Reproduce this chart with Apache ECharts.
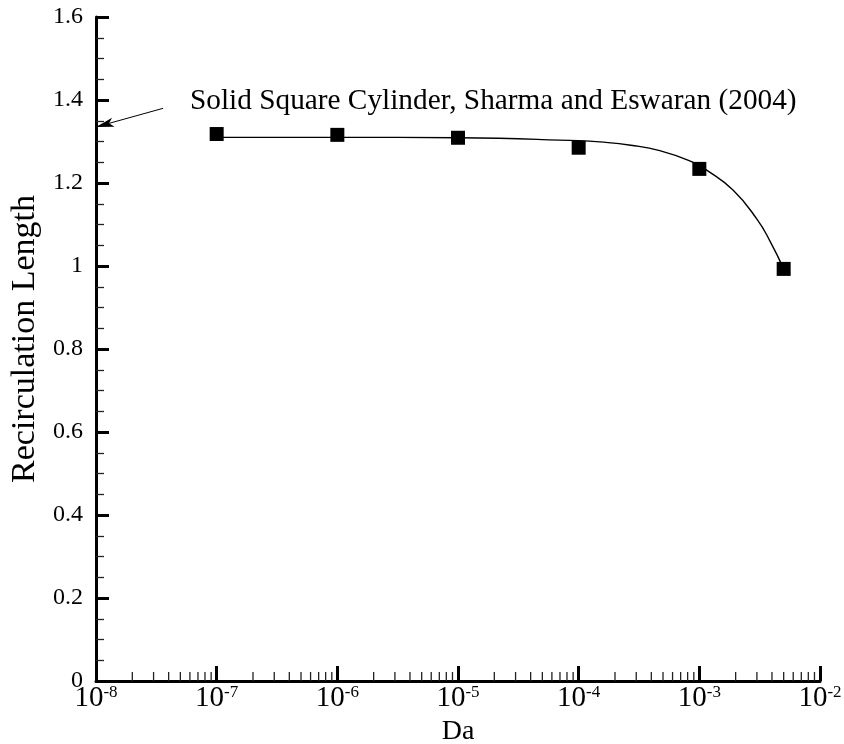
<!DOCTYPE html>
<html>
<head>
<meta charset="utf-8">
<script src="https://cdn.jsdelivr.net/npm/echarts@6/dist/echarts.min.js"></script>
<style>html,body{margin:0;padding:0;background:#fff}#c{width:844px;height:744px}</style>
</head>
<body>
<div id="c"></div>
<script>
// Darcy numbers and recirculation lengths (markers)
var daValues = [1e-7, 1e-6, 1e-5, 1e-4, 1e-3, 5e-3];
var lengthValues = [1.318, 1.316, 1.309, 1.285, 1.234, 0.993];
// fitted curve
var curveDa = [1e-7, 1e-6, 1e-5, 1e-4, 1.5e-4, 2.7e-4, 4.7e-4, 8.7e-4, 1.15e-3, 1.9e-3, 3e-3, 3.85e-3, 5e-3];
var curveLen = [1.310, 1.310, 1.309, 1.302, 1.299, 1.291, 1.278, 1.251, 1.231, 1.183, 1.113, 1.060, 0.993];
// reference arrow (solid cylinder)
var arrowFrom = [3.6e-8, 1.380];
var arrowTo = [1e-8, 1.335];
var annotationText = 'Solid Square Cylinder, Sharma and Eswaran (2004)';
var xMin = 1e-8, xMax = 1e-2;
// minor x ticks at 2..9 x 10^k
var minorX = [];
for (var e = -8; e < -2; e++) { for (var m = 2; m <= 9; m++) { minorX.push(m * Math.pow(10, e)); } }

var FONT = 'Liberation Serif';
var chart = echarts.init(document.getElementById('c'));
chart.setOption({
  backgroundColor: '#fff',
  animation: false,
  grid: { left: 96, right: 24, top: 17, bottom: 63, containLabel: false, outerBoundsMode: 'none' },
  xAxis: {
    type: 'log', logBase: 10, min: xMin, max: xMax,
    name: 'Da', nameLocation: 'middle', nameGap: 28,
    nameTextStyle: { fontFamily: FONT, fontSize: 28, color: '#000' },
    axisLine: { lineStyle: { color: '#000', width: 3 } },
    axisTick: { inside: true, length: 15, lineStyle: { color: '#000', width: 3 } },
    splitLine: { show: false },
    axisLabel: {
      margin: 3,
      formatter: function (v) {
        var ex = Math.round(Math.log10(v));
        return '{b|10}{s|' + ex + '}';
      },
      rich: {
        b: { fontFamily: FONT, fontSize: 29, color: '#000', lineHeight: 29 },
        s: { fontFamily: FONT, fontSize: 17, color: '#000', verticalAlign: 'top', lineHeight: 29, padding: [0, 0, 11, 0] }
      }
    }
  },
  yAxis: {
    type: 'value', min: 0, max: 1.6, interval: 0.2,
    name: 'Recirculation Length', nameLocation: 'middle', nameGap: 47, nameRotate: 90,
    nameTextStyle: { fontFamily: FONT, fontSize: 34, color: '#000', padding: [0, 0, 0, 20] },
    axisLine: { show: true, lineStyle: { color: '#000', width: 3 } },
    axisTick: { show: true, inside: true, length: 13, lineStyle: { color: '#000', width: 3 } },
    minorTick: { show: true, splitNumber: 4, length: 8, lineStyle: { color: '#222', width: 1.3 } },
    splitLine: { show: false },
    axisLabel: {
      margin: 13, fontFamily: FONT, fontSize: 24, color: '#000',
      formatter: function (v) { return String(+v.toFixed(1)); }
    }
  },
  graphic: [{
    type: 'text', left: 190, top: 87,
    style: { text: annotationText, fontFamily: FONT, fontSize: 29.3, fill: '#000' }
  }],
  series: [
    {
      type: 'custom', silent: true, z: 3,
      data: minorX.map(function (v) { return [v]; }),
      renderItem: function (params, api) {
        var p = api.coord([api.value(0), 0]);
        return { type: 'line', shape: { x1: p[0], y1: p[1], x2: p[0], y2: p[1] - 9 },
                 style: { stroke: '#222', lineWidth: 1.3 } };
      }
    },
    {
      type: 'line', smooth: 0.5, symbol: 'none', z: 4,
      lineStyle: { color: '#000', width: 1.4 },
      data: curveDa.map(function (d, i) { return [d, curveLen[i]]; }),
      markLine: {
        silent: true, animation: false,
        label: { show: false },
        lineStyle: { color: '#000', width: 1, type: 'solid' },
        data: [[
          { coord: arrowFrom, symbol: 'none' },
          { coord: arrowTo, symbol: 'arrow', symbolSize: [7, 18] }
        ]]
      }
    },
    {
      type: 'scatter', symbol: 'rect', symbolSize: 14, z: 5,
      itemStyle: { color: '#000', opacity: 1 },
      data: daValues.map(function (d, i) { return [d, lengthValues[i]]; })
    }
  ]
});
</script>
</body>
</html>
